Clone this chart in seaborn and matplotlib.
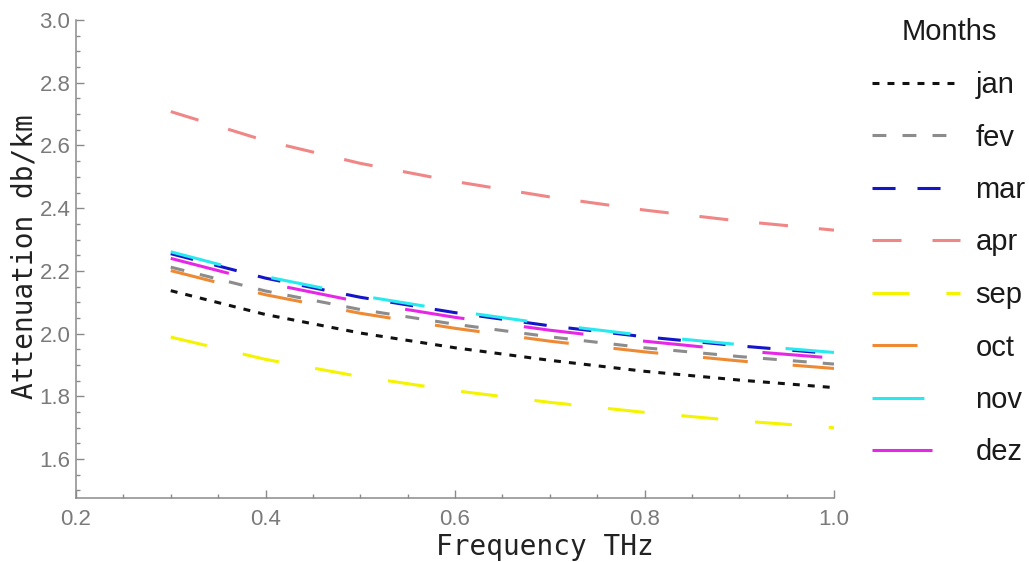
import matplotlib
matplotlib.use("Agg")
import matplotlib.pyplot as plt
import seaborn as sns
import pandas as pd
from matplotlib.ticker import MultipleLocator, FormatStrFormatter

# ---- data ----
freq = [0.3, 0.4, 0.5, 0.6, 0.7, 0.8, 0.9, 1.0]
months = ["jan", "fev", "mar", "apr", "sep", "oct", "nov", "dez"]
jan = [2.137, 2.061, 2.002, 1.955, 1.915, 1.880, 1.852, 1.828]
fev = [2.212, 2.136, 2.077, 2.030, 1.990, 1.955, 1.927, 1.903]
mar = [2.255, 2.177, 2.116, 2.067, 2.025, 1.990, 1.961, 1.936]
apr = [2.708, 2.615, 2.543, 2.485, 2.436, 2.394, 2.359, 2.330]
sep = [1.989, 1.918, 1.863, 1.818, 1.781, 1.749, 1.722, 1.700]
oct_ = [2.201, 2.124, 2.065, 2.017, 1.976, 1.942, 1.913, 1.889]
nov = [2.261, 2.182, 2.121, 2.072, 2.030, 1.994, 1.965, 1.940]
dez = [2.240, 2.162, 2.101, 2.052, 2.011, 1.976, 1.946, 1.922]
series = [jan, fev, mar, apr, sep, oct_, nov, dez]
y_ticks = [1.6, 1.8, 2.0, 2.2, 2.4, 2.6, 2.8, 3.0]
x_ticks = [0.2, 0.4, 0.6, 0.8, 1.0]

colors = {"jan": "#111111", "fev": "#8c8c8c", "mar": "#1414c8", "apr": "#f08686",
          "sep": "#f4f400", "oct": "#ee8a34", "nov": "#28eaee", "dez": "#e628e6"}
# dash patterns in points (on, off)
dash = {"jan": (5.0, 5.8), "fev": (10.0, 11.6), "mar": (16.6, 15.8), "apr": (20.9, 22.3),
        "sep": (26.6, 26.6), "oct": (32.4, 32.4), "nov": (37.4, 37.4), "dez": (43.2, 43.2)}

rows = []
for m, vals in zip(months, series):
    for f, v in zip(freq, vals):
        rows.append({"freq": f, "att": v, "month": m})
df = pd.DataFrame(rows)

sns.set_style("white")
plt.rcParams["font.family"] = ["Liberation Sans", "DejaVu Sans"]
plt.rcParams["lines.scale_dashes"] = False

fig = plt.figure(figsize=(10.29, 5.62), dpi=100)
ax = fig.add_axes([76/1029, 1-498/562, (834-76)/1029, (498-20)/562])

lw = 2.2
sns.lineplot(data=df, x="freq", y="att", hue="month", style="month",
             hue_order=months, style_order=months, palette=colors, dashes=dash,
             linewidth=lw, ax=ax, legend="full")

ax.set_xlim(0.2, 1.0)
ax.set_ylim(1.476, 3.0)
ax.set_yticks(y_ticks)
ax.set_xticks(x_ticks)
ax.yaxis.set_minor_locator(MultipleLocator(0.05))
ax.xaxis.set_minor_locator(MultipleLocator(0.05))
ax.yaxis.set_major_formatter(FormatStrFormatter("%.1f"))
ax.xaxis.set_major_formatter(FormatStrFormatter("%.1f"))

for s in ["top", "right"]:
    ax.spines[s].set_visible(False)
for s in ["left", "bottom"]:
    ax.spines[s].set_color("#8a8a8a")
    ax.spines[s].set_linewidth(1.1)

ax.tick_params(which="both", direction="in", bottom=True, left=True, top=False, right=False,
               colors="#8a8a8a", width=1.0, labelcolor="#7a7a7a", labelsize=16)
ax.tick_params(which="major", length=5.5)
ax.tick_params(which="minor", length=3.2)
ax.tick_params(axis="y", pad=4)
ax.tick_params(axis="x", pad=8)

ax.set_xlabel("Frequency THz", family="DejaVu Sans Mono", fontsize=20, color="#222222")
ax.set_ylabel("Attenuation db/km", family="DejaVu Sans Mono", fontsize=20, color="#222222")
ax.xaxis.label.set_va("center")
ax.yaxis.label.set_va("center")
ax.xaxis.set_label_coords((545-76)/758, (498-547)/478)
ax.yaxis.set_label_coords((25-76)/758, 0.505)

sns.move_legend(ax, loc="upper left", bbox_to_anchor=(872/1029, 1-18.5/562),
                bbox_transform=fig.transFigure, title="Months", frameon=False,
                fontsize=21, title_fontsize=21, handlelength=3.0, handletextpad=0.55,
                labelspacing=0.84, borderpad=0, borderaxespad=0)
leg = ax.get_legend()
for h in leg.get_lines():
    h.set_linewidth(lw)
    if h.get_label() in dash:
        h.set_dashes(dash[h.get_label()])
for t in leg.get_texts():
    t.set_color("#1a1a1a")
leg.get_title().set_color("#1a1a1a")

fig.savefig("out.png", dpi=100)
